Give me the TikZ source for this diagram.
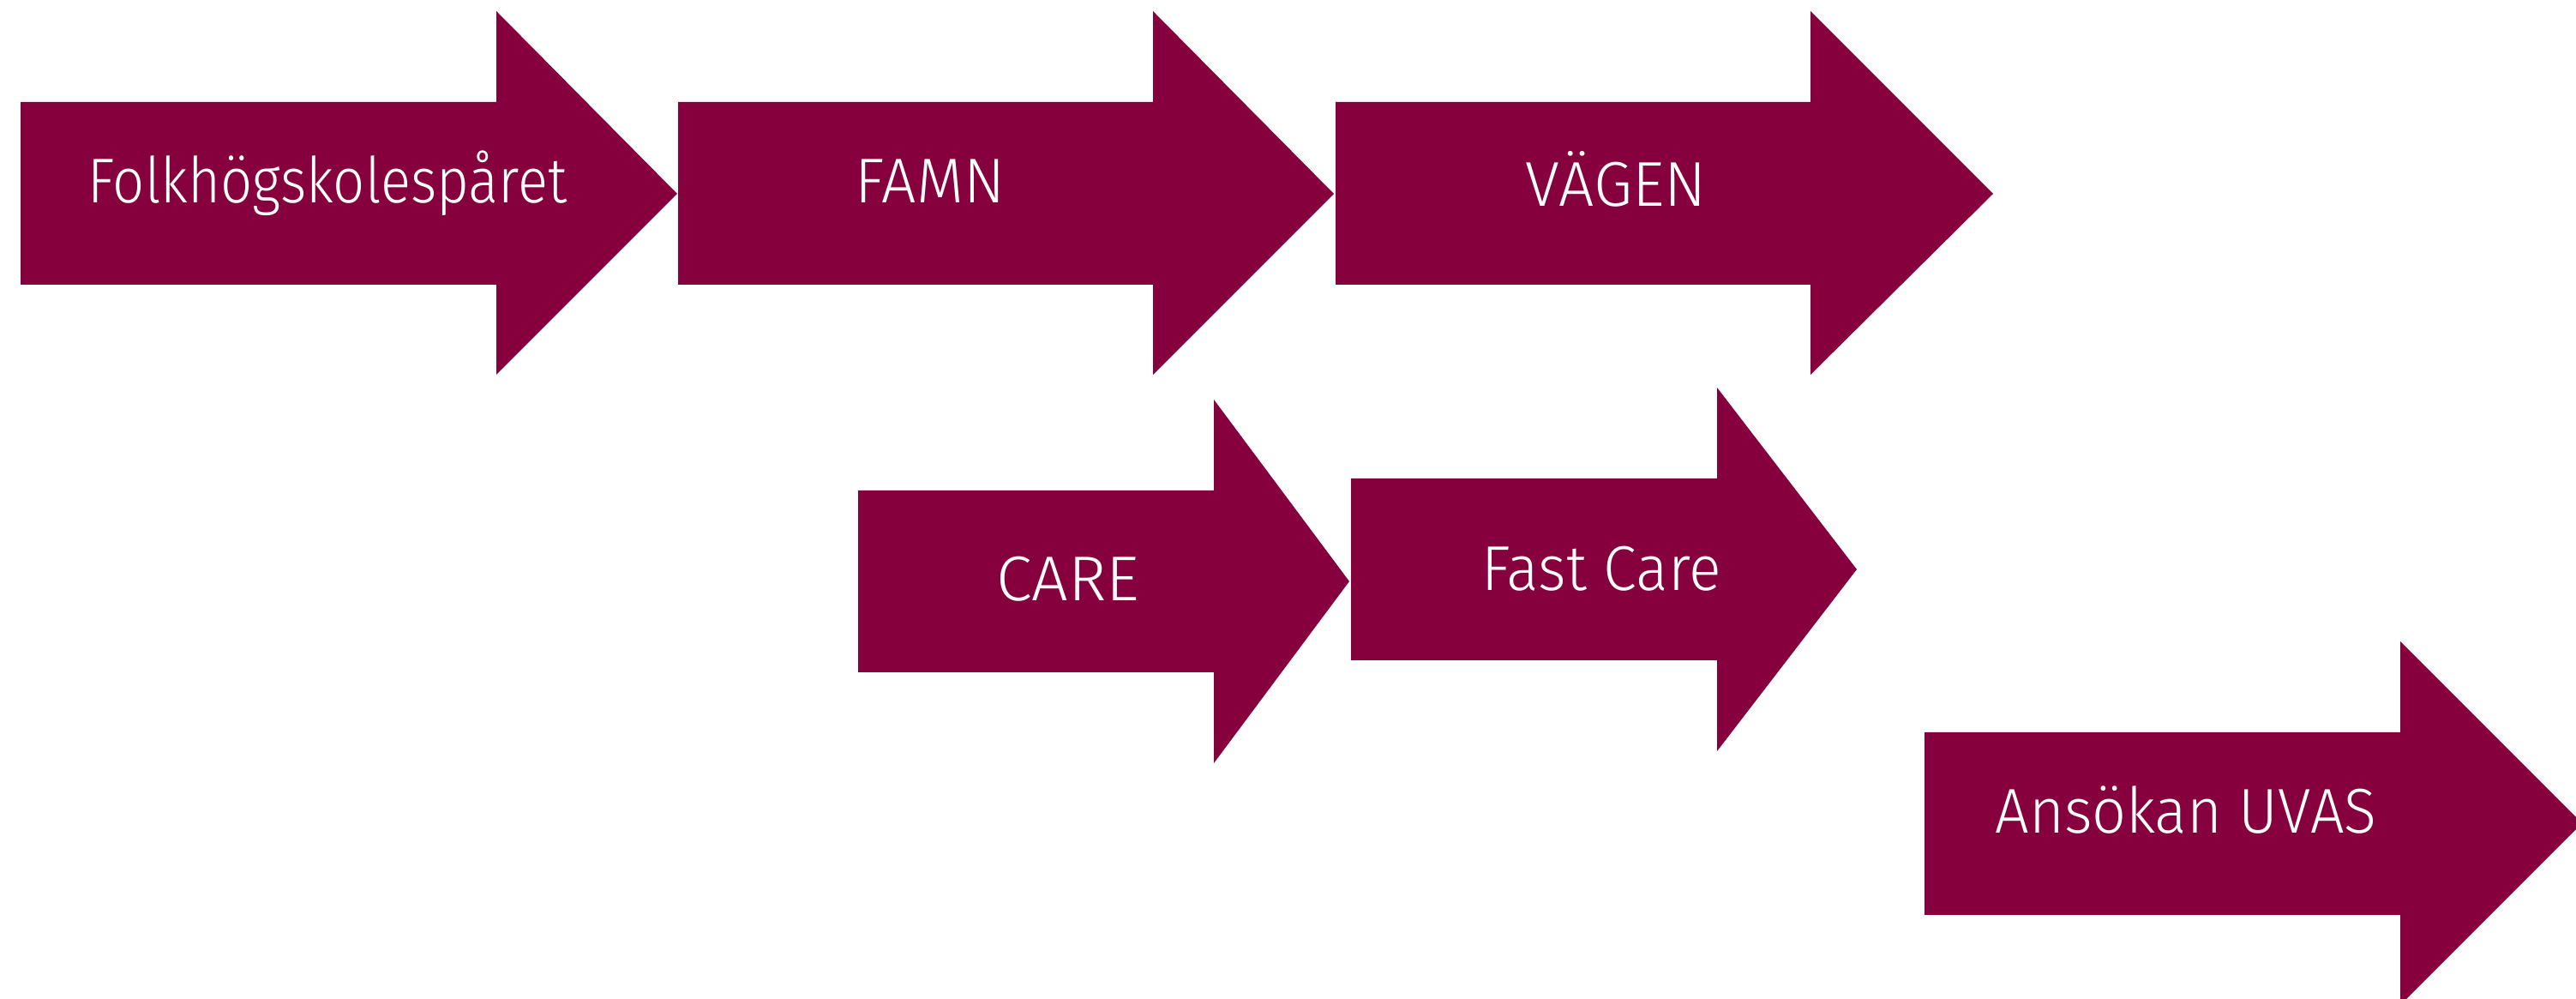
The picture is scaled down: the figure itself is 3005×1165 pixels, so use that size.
\documentclass[tikz,border=0pt]{standalone}
\usepackage{fontspec}
\setmainfont{Fira Sans Light}
\definecolor{uumaroon}{RGB}{134,0,62}
\newcommand\fitw[2]{\resizebox{#1}{\height}{#2}}
\begin{document}
\begin{tikzpicture}[x=0.01cm,y=-0.01cm,
  arrowfill/.style={fill=uumaroon,draw=none},
  lbl/.style={text=white,font=\fontsize{21}{25}\selectfont,anchor=base,inner sep=0pt}]
\useasboundingbox (0,0) rectangle (3005,1165);
% row 1
\fill[arrowfill] (24,119) -- (579,119) -- (579,13) -- (790,226) -- (579,437) -- (579,332) -- (24,332) -- cycle;
\fill[arrowfill] (791,119) -- (1345,119) -- (1345,13) -- (1556,226) -- (1345,437) -- (1345,332) -- (791,332) -- cycle;
\fill[arrowfill] (1558,119) -- (2112,119) -- (2112,13) -- (2325,226) -- (2112,437) -- (2112,332) -- (1558,332) -- cycle;
% row 2
\fill[arrowfill] (1001,572) -- (1416,572) -- (1416,466) -- (1574,678) -- (1416,890) -- (1416,784) -- (1001,784) -- cycle;
\fill[arrowfill] (1576,558) -- (2003,558) -- (2003,452) -- (2166,664) -- (2003,876) -- (2003,770) -- (1576,770) -- cycle;
% row 3
\fill[arrowfill] (2245,854) -- (2800,854) -- (2800,748) -- (3012,960) -- (2800,1172) -- (2800,1067) -- (2245,1067) -- cycle;
% labels
\node[lbl] (folk) at (382,237) {\fitw{5.58cm}{Folkhögskolespåret}};
\node[lbl] (famn) at (1085,237) {\fitw{1.74cm}{FAMN}};
\node[lbl] (vagen) at (1885,241) {\fitw{2.11cm}{VÄGEN}};
\node[lbl] (care) at (1246,701) {\fitw{1.67cm}{CARE}};
\node[lbl] (fastcare) at (1868,689) {\fitw{2.79cm}{Fast Care}};
\node[lbl] (uvas) at (2550,972) {\fitw{4.45cm}{Ansökan UVAS}};
\end{tikzpicture}
\end{document}
